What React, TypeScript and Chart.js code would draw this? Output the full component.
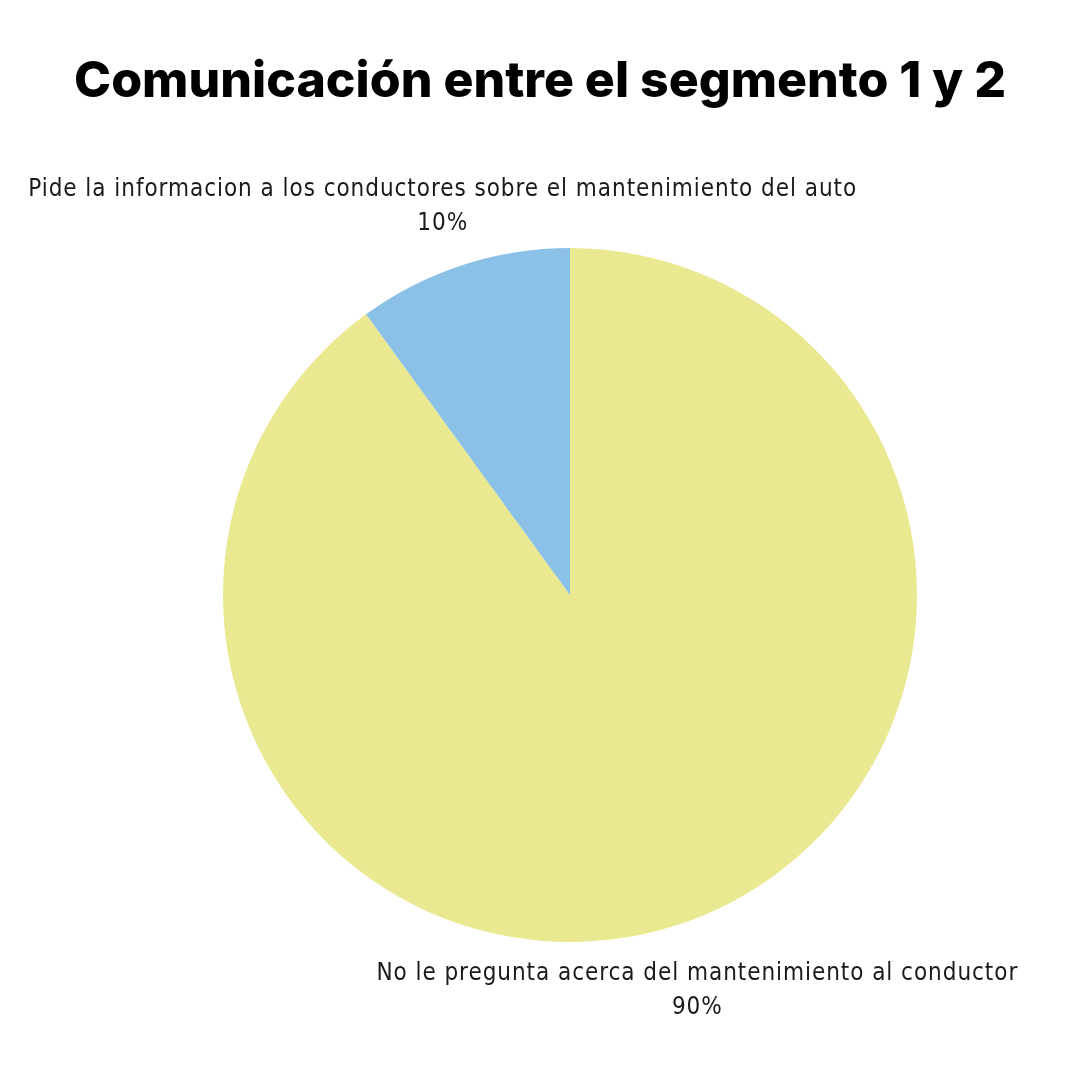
import React, { useEffect, useRef } from "react";
import { Chart, registerables } from "chart.js";

Chart.register(...registerables);

const titleText = "Comunicación entre el segmento 1 y 2";
const categories = [
  "No le pregunta acerca del mantenimiento al conductor",
  "Pide la informacion a los conductores sobre el mantenimiento del auto",
];
const values = [90, 10];
const percentLabels = ["90%", "10%"];
const colors = ["#EAE891", "#8BC1E6"];

const LABEL_FONT = "24px 'DejaVu Sans Condensed', 'DejaVu Sans', sans-serif";
const TITLE_FONT = "800 50px Inter, 'Open Sans', sans-serif";

const textPlugin = {
  id: "textPlugin",
  afterDatasetsDraw(chart: any) {
    const ctx = chart.ctx;
    ctx.save();
    // title
    ctx.font = TITLE_FONT;
    ctx.fillStyle = "#000000";
    ctx.textAlign = "center";
    ctx.textBaseline = "middle";
    ctx.fillText(titleText, chart.width / 2, 82);
    // slice labels
    const meta = chart.getDatasetMeta(0);
    ctx.font = LABEL_FONT;
    try {
      (ctx as any).letterSpacing = "0.95px";
    } catch (e) {}
    ctx.fillStyle = "#1a1a1a";
    meta.data.forEach((arc: any, i: number) => {
      const mid = (arc.startAngle + arc.endAngle) / 2;
      const r = arc.outerRadius + 65;
      const cx = arc.x + Math.cos(mid) * r;
      const cy = arc.y + Math.sin(mid) * r;
      ctx.fillText(categories[i], cx, cy - 13);
      ctx.fillText(percentLabels[i], cx, cy + 21);
    });
    ctx.restore();
  },
};

export default function App() {
  const ref = useRef<HTMLCanvasElement | null>(null);
  useEffect(() => {
    if (!ref.current) return;
    const chart = new Chart(ref.current, {
      type: "pie",
      data: {
        labels: categories,
        datasets: [
          {
            data: values,
            backgroundColor: colors,
            borderWidth: 0,
          },
        ],
      },
      options: {
        animation: false,
        responsive: false,
        maintainAspectRatio: false,
        layout: { padding: { left: 223, right: 163, top: 248, bottom: 138 } },
        plugins: {
          legend: { display: false },
          tooltip: { enabled: false },
          title: { display: false },
        },
      },
      plugins: [textPlugin],
    });
    return () => chart.destroy();
  }, []);
  return (
    <div style={{ position: "absolute", left: 0, top: 0, width: 1080, height: 1080, background: "#ffffff" }}>
      <canvas ref={ref} width={1080} height={1080} style={{ width: 1080, height: 1080 }} />
    </div>
  );
}
